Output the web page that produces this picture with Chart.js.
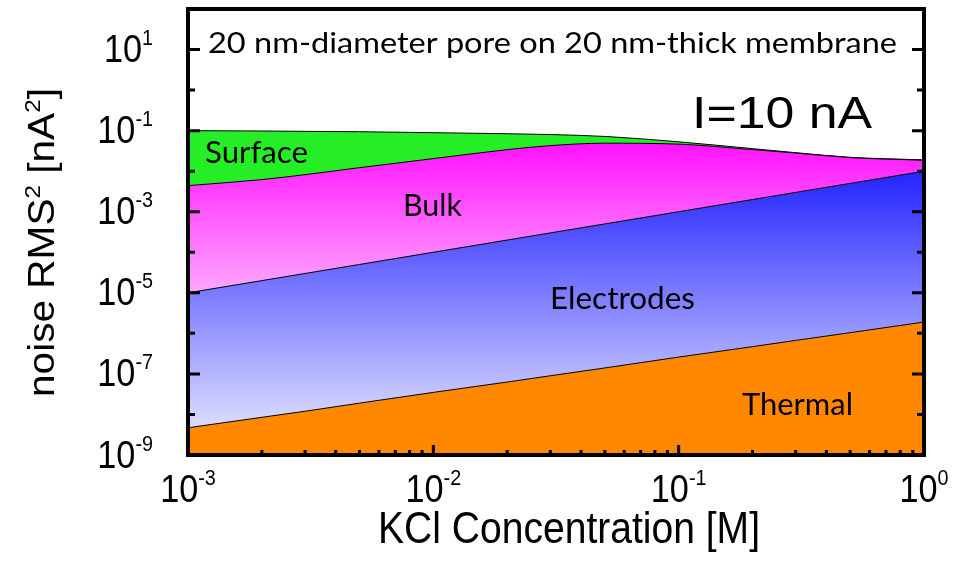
<!DOCTYPE html>
<html>
<head>
<meta charset="utf-8">
<script src="https://cdn.jsdelivr.net/npm/chart.js@4.4.0/dist/chart.umd.min.js"></script>
<style>
html, body { margin: 0; padding: 0; background: #fff; }
#wrap { width: 958px; height: 561px; }
</style>
</head>
<body>
<div id="wrap"><canvas id="noiseChart" width="958" height="561"></canvas></div>
<script>
// KCl concentration [M]
const concentrations = [0.001, 0.002, 0.003, 0.005, 0.01, 0.02, 0.03, 0.05, 0.1, 0.2, 0.3, 0.5, 1];
// upper edge of each stacked band, noise RMS^2 [nA^2]
const thermalTop    = [4.7e-9, 8.5e-9, 1.2e-8, 1.9e-8, 3.5e-8, 6.3e-8, 9.0e-8, 1.4e-7, 2.6e-7, 4.7e-7, 6.7e-7, 1.04e-6, 1.9e-6];
const electrodesTop = [1e-5, 2e-5, 3e-5, 5e-5, 1e-4, 2e-4, 3e-4, 5e-4, 1e-3, 2e-3, 3e-3, 5e-3, 1e-2];
const bulkTop       = [0.0044, 0.0062, 0.0082, 0.0122, 0.0204, 0.034, 0.0427, 0.049, 0.0465, 0.034, 0.028, 0.0216, 0.0186];
const surfaceTop    = [0.100, 0.098, 0.096, 0.094, 0.089, 0.084, 0.080, 0.072, 0.053, 0.036, 0.0286, 0.022, 0.019];

// tick labels (exponents of 10)
const xTickExps = [-3, -2, -1, 0];
const yTickExps = [1, -1, -3, -5, -7, -9];

const bandLabels = [
    // text, left, baseline, width
    ['Surface', 205, 163, 103],
    ['Bulk', 403, 215.5, 59],
    ['Electrodes', 550, 309, 145],
    ['Thermal', 742, 415, 111]
];

const toPoints = vals => concentrations.map((c, i) => ({ x: c, y: vals[i] }));

function drawRuns(ctx, runs, family, x, y, opt) {
    // runs: [text, fontSize, rise]
    ctx.save();
    ctx.translate(x, y);
    if (opt.rotate) ctx.rotate(opt.rotate);
    let natural = 0;
    runs.forEach(r => {
        ctx.font = r[1] + 'px ' + family;
        natural += ctx.measureText(r[0]).width;
    });
    const sx = opt.width ? opt.width / natural : (opt.sx || 1);
    const w = natural * sx;
    const start = opt.align === 'right' ? -w : (opt.align === 'center' ? -w / 2 : 0);
    ctx.scale(sx, opt.sy || 1);
    let cx = start / sx;
    ctx.fillStyle = '#000';
    ctx.textAlign = 'left';
    ctx.textBaseline = 'alphabetic';
    runs.forEach(r => {
        ctx.font = r[1] + 'px ' + family;
        ctx.fillText(r[0], cx, -(r[2] || 0));
        cx += ctx.measureText(r[0]).width;
    });
    ctx.restore();
}

const framePlugin = {
    id: 'framePlugin',
    afterDraw(chart) {
        const ctx = chart.ctx;
        const a = chart.chartArea;
        const xs = chart.scales.x, ys = chart.scales.y;
        const arial = '"Liberation Sans", Arial, sans-serif';
        const lato = 'Lato, "Open Sans", sans-serif';

        ctx.save();
        ctx.strokeStyle = '#000';
        ctx.lineCap = 'butt';

        // y ticks, inward on both sides
        ctx.lineWidth = 3;
        for (let e = -8; e <= 1; e++) {
            const py = ys.getPixelForValue(Math.pow(10, e));
            const len = (e % 2 !== 0) ? 12 : 7;
            ctx.beginPath();
            ctx.moveTo(a.left, py); ctx.lineTo(a.left + len, py);
            ctx.moveTo(a.right, py); ctx.lineTo(a.right - len, py);
            ctx.stroke();
        }
        // x ticks, bottom only
        for (let e = -3; e < 0; e++) {
            for (let m = 1; m <= 9; m++) {
                const v = m * Math.pow(10, e);
                if (v <= 0.001) continue;
                const px = xs.getPixelForValue(v);
                const len = m === 1 ? 10 : 5;
                ctx.beginPath();
                ctx.moveTo(px, a.bottom); ctx.lineTo(px, a.bottom - len);
                ctx.stroke();
            }
        }

        // frame
        ctx.lineWidth = 4;
        ctx.strokeRect(a.left, a.top, a.right - a.left, a.bottom - a.top);
        ctx.restore();

        // tick labels
        yTickExps.forEach(e => {
            const py = ys.getPixelForValue(Math.pow(10, e));
            drawRuns(ctx, [['10', 38, 0], [String(e), 22, 17]], arial, 153, py + 12.5, { align: 'right', sx: 0.9 });
        });
        xTickExps.forEach(e => {
            const px = xs.getPixelForValue(Math.pow(10, e));
            drawRuns(ctx, [['10', 38, 0], [String(e), 22, 17]], arial, px, 502, { align: 'center', sx: 0.9 });
        });

        // axis titles
        drawRuns(ctx, [['KCl Concentration [M]', 44, 0]], arial, 378, 543, { width: 382 });
        drawRuns(ctx, [['noise RMS', 40, 0], ['2', 24, 16], [' [nA', 40, 0], ['2', 24, 16], [']', 40, 0]],
            arial, 54, 397, { rotate: -Math.PI / 2, width: 309, sy: 0.9 });

        // annotations
        drawRuns(ctx, [['20 nm-diameter pore on 20 nm-thick membrane', 28, 0]], lato, 208, 53, { width: 689 });
        drawRuns(ctx, [['I=10 nA', 45, 0]], arial, 692, 127.5, { width: 180 });
        bandLabels.forEach(b => drawRuns(ctx, [[b[0], 30, 0]], lato, b[1], b[2], { width: b[3] }));
    }
};

function vGradient(chart, y0, c0, y1, c1) {
    const g = chart.ctx.createLinearGradient(0, y0, 0, y1);
    g.addColorStop(0, c0);
    g.addColorStop(1, c1);
    return g;
}

const common = {
    borderColor: '#000',
    borderWidth: 1,
    pointRadius: 0,
    cubicInterpolationMode: 'monotone'
};

new Chart(document.getElementById('noiseChart'), {
    type: 'line',
    data: {
        datasets: [
            Object.assign({}, common, {
                label: 'Thermal',
                data: toPoints(thermalTop),
                fill: 'start',
                backgroundColor: '#ff8800'
            }),
            Object.assign({}, common, {
                label: 'Electrodes',
                data: toPoints(electrodesTop),
                fill: '-1',
                backgroundColor: c => c.chart.chartArea ? vGradient(c.chart, 170, 'rgb(35,35,255)', 430, 'rgb(222,222,255)') : 'rgb(120,120,255)'
            }),
            Object.assign({}, common, {
                label: 'Bulk',
                data: toPoints(bulkTop),
                fill: '-1',
                backgroundColor: c => c.chart.chartArea ? vGradient(c.chart, 140, 'rgb(255,15,255)', 295, 'rgb(255,170,255)') : 'rgb(255,80,255)'
            }),
            Object.assign({}, common, {
                label: 'Surface',
                data: toPoints(surfaceTop),
                fill: '-1',
                backgroundColor: '#26ee26'
            })
        ]
    },
    options: {
        responsive: false,
        animation: false,
        layout: { padding: { left: 188, top: 9, right: 34, bottom: 106 } },
        plugins: {
            legend: { display: false },
            tooltip: { enabled: false }
        },
        scales: {
            x: { type: 'logarithmic', min: 0.001, max: 1, display: false },
            y: { type: 'logarithmic', min: 1e-9, max: 100, display: false }
        }
    },
    plugins: [framePlugin]
});
</script>
</body>
</html>
